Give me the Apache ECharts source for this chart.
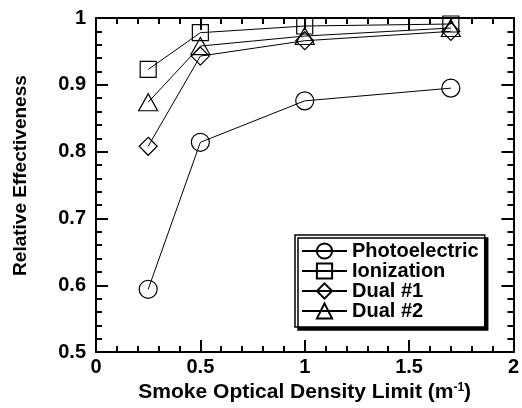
<!DOCTYPE html>
<html><head><meta charset="utf-8">
<script src="https://cdn.jsdelivr.net/npm/echarts@6/dist/echarts.min.js"></script>
<style>html,body{margin:0;padding:0;background:#fff}#c{width:522px;height:408px}</style>
</head><body><div id="c"></div>
<script>
var xValues = [0.25, 0.5, 1.0, 1.7];
var photoelectric = [0.594, 0.814, 0.876, 0.895];
var ionization = [0.923, 0.978, 0.988, 0.991];
var dual1 = [0.808, 0.943, 0.966, 0.980];
var dual2 = [0.874, 0.958, 0.973, 0.985];
var seriesNames = ['Photoelectric', 'Ionization', 'Dual #1', 'Dual #2'];
var xTicks = [0, 0.5, 1, 1.5, 2];
var yTicks = [0.5, 0.6, 0.7, 0.8, 0.9, 1];

var FONT = 'Liberation Sans, Arial, sans-serif';
function pairs(ys){ return xValues.map(function(x,i){ return [x, ys[i]]; }); }
function mk(name, ys, symbol, size){
  return {
    name: name, type: 'line', data: pairs(ys), symbol: symbol, symbolSize: size,
    lineStyle: {color: '#000', width: 1},
    itemStyle: {color: 'transparent', borderColor: '#000', borderWidth: 1.2},
    emphasis: {disabled: true}, animation: false, z: 3
  };
}
function xAx(pos, labels){
  return {
    type: 'value', position: pos, min: xTicks[0], max: xTicks[xTicks.length-1], interval: 0.5,
    axisLine: {show: true, onZero: false, lineStyle: {color: '#000', width: 2}},
    axisTick: {show: true, inside: true, length: 12, lineStyle: {color: '#000', width: 2}},
    minorTick: {show: true, splitNumber: 5, length: 6, lineStyle: {color: '#000', width: 2}},
    splitLine: {show: false},
    axisLabel: {show: labels, color: '#000', fontFamily: FONT, fontWeight: 'bold', fontSize: 20, margin: 5},
    name: labels ? 'Smoke Optical Density Limit (m{sup|-1})' : '',
    nameLocation: 'middle', nameGap: 28,
    nameTextStyle: {color: '#000', fontFamily: FONT, fontWeight: 'bold', fontSize: 21,
      rich: {sup: {fontFamily: FONT, fontWeight: 'bold', fontSize: 12, verticalAlign: 'top', color: '#000'}}}
  };
}
function yAx(pos, labels){
  return {
    type: 'value', position: pos, min: yTicks[0], max: yTicks[yTicks.length-1], interval: 0.1,
    axisLine: {show: true, onZero: false, lineStyle: {color: '#000', width: 2}},
    axisTick: {show: true, inside: true, length: 12, lineStyle: {color: '#000', width: 2}},
    minorTick: {show: true, splitNumber: 5, length: 6, lineStyle: {color: '#000', width: 2}},
    splitLine: {show: false},
    axisLabel: {show: labels, color: '#000', fontFamily: FONT, fontWeight: 'bold', fontSize: 20, margin: 10},
    name: labels ? 'Relative Effectiveness' : '',
    nameLocation: 'middle', nameGap: 66,
    nameTextStyle: {color: '#000', fontFamily: FONT, fontWeight: 'bold', fontSize: 19, padding: [0,0,0,19]}
  };
}
var chart = echarts.init(document.getElementById('c'), null, {renderer: 'canvas'});
chart.setOption({
  animation: false,
  backgroundColor: '#fff',
  grid: {left: 96, right: 3, top: 18, bottom: 52, containLabel: false},
  xAxis: [xAx('bottom', true), xAx('top', false)],
  yAxis: [yAx('left', true), yAx('right', false)],
  legend: {
    data: seriesNames, orient: 'vertical', left: 295, top: 235,
    itemWidth: 45, itemHeight: 19, itemGap: 0, padding: 6,
    backgroundColor: '#fff', borderColor: '#000', borderWidth: 1.5,
    shadowColor: '#000', shadowBlur: 0, shadowOffsetX: 3, shadowOffsetY: 3,
    textStyle: {color: '#000', fontFamily: FONT, fontWeight: 'bold', fontSize: 20, lineHeight: 19},
    selectedMode: false
  },
  series: [
    mk(seriesNames[0], photoelectric, 'circle', 18),
    mk(seriesNames[1], ionization, 'rect', 16),
    mk(seriesNames[2], dual1, 'diamond', 18),
    mk(seriesNames[3], dual2, 'triangle', [19, 17])
  ]
});
</script></body></html>
